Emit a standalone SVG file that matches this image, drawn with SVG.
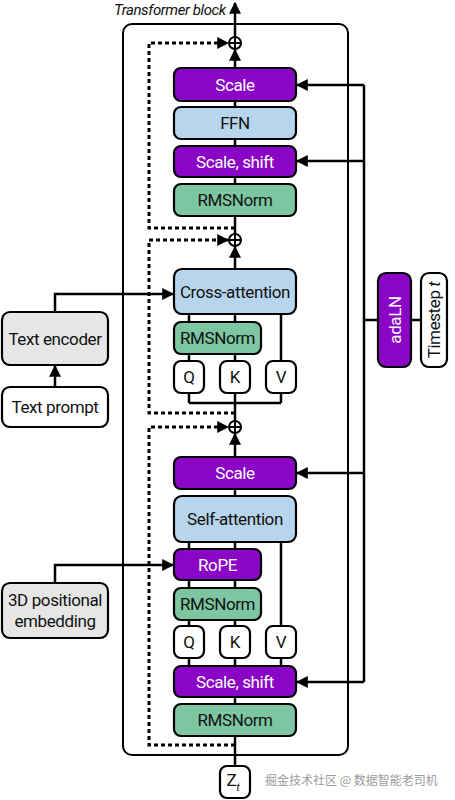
<svg xmlns="http://www.w3.org/2000/svg" width="455" height="800" viewBox="0 0 455 800">
<defs>
<marker id="ah" viewBox="0 0 10 10" refX="9" refY="5" markerWidth="12" markerHeight="12" markerUnits="userSpaceOnUse" orient="auto">
<path d="M0,0 L10,5 L0,10 z" fill="#000"/>
</marker>
<style>
.bx{stroke:#000;stroke-width:2.2}
.pu{fill:#8b05c6}
.bl{fill:#b7d5ec}
.gr{fill:#7dc6a2}
.wh{fill:#fff}
.gy{fill:#e6e6e6}
.t{font-family:Roboto,"Liberation Sans",sans-serif;font-size:17px;letter-spacing:-0.4px;text-anchor:middle;fill:#111}
.tw{fill:#fff}
.ln{fill:none;stroke:#000;stroke-width:2.5}
.ds{fill:none;stroke:#000;stroke-width:3;stroke-dasharray:4,3}
</style>
</defs>
<rect width="455" height="800" fill="#fff"/>
<g id="block">
<rect x="123" y="24" width="225" height="731" rx="9" fill="none" stroke="#000" stroke-width="2"/>
<text x="114" y="15" font-family="Roboto,'Liberation Sans',sans-serif" font-size="15" letter-spacing="-0.4" font-style="italic" fill="#111">Transformer block</text>
</g>
<g id="connectors">
<path class="ln" d="M235 37 V3" marker-end="url(#ah)"/>
<path class="ln" d="M235 234 V50" marker-end="url(#ah)"/>
<path class="ln" d="M235 269 V247" marker-end="url(#ah)"/>
<path class="ln" d="M189 403 V314 M235 421 V314 M281 403 V314 M189 403 H281"/>
<path class="ln" d="M235 736 V434" marker-end="url(#ah)"/>
<path class="ln" d="M189 666 V542 M281 666 V542"/>
<path class="ln" d="M235 766 V736"/>
<path class="ds" d="M235 745 H149 V427 H228" marker-end="url(#ah)"/>
<path class="ds" d="M235 413 H149 V240 H228" marker-end="url(#ah)"/>
<path class="ds" d="M235 228 H149 V43 H228" marker-end="url(#ah)"/>
<path class="ln" d="M364 85 V682"/>
<path class="ln" d="M364 85 H297" marker-end="url(#ah)"/>
<path class="ln" d="M364 161 H297" marker-end="url(#ah)"/>
<path class="ln" d="M364 473 H297" marker-end="url(#ah)"/>
<path class="ln" d="M364 682 H297" marker-end="url(#ah)"/>
<path class="ln" d="M364 320 H378 M411 320 H421"/>
<path class="ln" d="M55 312 V294 H173" marker-end="url(#ah)"/>
<path class="ln" d="M55 387 V366" marker-end="url(#ah)"/>
<path class="ln" d="M55 583 V565 H173" marker-end="url(#ah)"/>
</g>
<g id="add1"><circle cx="235" cy="43" r="6" fill="#fff" stroke="#000" stroke-width="2"/><path d="M229 43 H241 M235 37 V49" stroke="#000" stroke-width="2"/></g>
<g id="add2"><circle cx="235" cy="240" r="6" fill="#fff" stroke="#000" stroke-width="2"/><path d="M229 240 H241 M235 234 V246" stroke="#000" stroke-width="2"/></g>
<g id="add3"><circle cx="235" cy="427" r="6" fill="#fff" stroke="#000" stroke-width="2"/><path d="M229 427 H241 M235 421 V433" stroke="#000" stroke-width="2"/></g>
<g id="scale1"><rect class="bx pu" x="174" y="68" width="122" height="33" rx="7"/><text class="t tw" x="235" y="90.5">Scale</text></g>
<g id="ffn"><rect class="bx bl" x="174" y="107" width="122" height="32" rx="7"/><text class="t" x="235" y="129">FFN</text></g>
<g id="scaleshift1"><rect class="bx pu" x="174" y="146" width="122" height="31" rx="7"/><text class="t tw" x="235" y="167.5">Scale, shift</text></g>
<g id="rmsnorm1"><rect class="bx gr" x="174" y="184" width="122" height="32" rx="7"/><text class="t" x="235" y="206">RMSNorm</text></g>
<g id="crossattn"><rect class="bx bl" x="174" y="269" width="122" height="45" rx="8"/><text class="t" x="235" y="297.5">Cross-attention</text></g>
<g id="rmsnorm2"><rect class="bx gr" x="174" y="322" width="87" height="32" rx="7"/><text class="t" x="217.5" y="344">RMSNorm</text></g>
<g id="q1"><rect class="bx wh" x="174" y="361" width="30" height="32" rx="7"/><text class="t" x="189" y="383">Q</text></g>
<g id="k1"><rect class="bx wh" x="220" y="361" width="30" height="32" rx="7"/><text class="t" x="235" y="383">K</text></g>
<g id="v1"><rect class="bx wh" x="266" y="361" width="30" height="32" rx="7"/><text class="t" x="281" y="383">V</text></g>
<g id="scale2"><rect class="bx pu" x="174" y="457" width="122" height="32" rx="7"/><text class="t tw" x="235" y="479">Scale</text></g>
<g id="selfattn"><rect class="bx bl" x="174" y="496" width="122" height="46" rx="8"/><text class="t" x="235" y="525">Self-attention</text></g>
<g id="rope"><rect class="bx pu" x="174" y="549" width="87" height="31" rx="7"/><text class="t tw" x="217.5" y="570.5">RoPE</text></g>
<g id="rmsnorm3"><rect class="bx gr" x="174" y="588" width="87" height="32" rx="7"/><text class="t" x="217.5" y="610">RMSNorm</text></g>
<g id="q2"><rect class="bx wh" x="174" y="626" width="30" height="32" rx="7"/><text class="t" x="189" y="648">Q</text></g>
<g id="k2"><rect class="bx wh" x="220" y="626" width="30" height="32" rx="7"/><text class="t" x="235" y="648">K</text></g>
<g id="v2"><rect class="bx wh" x="266" y="626" width="30" height="32" rx="7"/><text class="t" x="281" y="648">V</text></g>
<g id="scaleshift2"><rect class="bx pu" x="174" y="666" width="122" height="31" rx="7"/><text class="t tw" x="235" y="687.5">Scale, shift</text></g>
<g id="rmsnorm4"><rect class="bx gr" x="174" y="704" width="122" height="32" rx="7"/><text class="t" x="235" y="726">RMSNorm</text></g>
<g id="zt"><rect class="bx wh" x="220" y="766" width="30" height="32" rx="7"/><text class="t" x="233" y="786">Z<tspan font-size="11" font-style="italic" dy="5">t</tspan></text></g>
<g id="textencoder"><rect class="bx gy" x="2" y="312" width="106" height="53" rx="8"/><text class="t" x="55" y="344.5">Text encoder</text></g>
<g id="textprompt"><rect class="bx wh" x="2" y="387" width="106" height="40" rx="8"/><text class="t" x="55" y="413">Text prompt</text></g>
<g id="posemb"><rect class="bx gy" x="2" y="583" width="106" height="55" rx="8"/><text class="t" x="55" y="606">3D positional</text><text class="t" x="55" y="627">embedding</text></g>
<g id="adaln"><rect class="bx pu" x="378" y="273" width="33" height="94" rx="8"/><text class="t tw" transform="translate(400.5 320) rotate(-90)">adaLN</text></g>
<g id="timestep"><rect class="bx wh" x="421" y="273" width="26" height="94" rx="8"/><text class="t" transform="translate(440 320) rotate(-90)">Timestep <tspan font-style="italic">t</tspan></text></g>
<text x="265" y="785" font-family="'Noto Sans CJK SC',sans-serif" font-size="12" fill="#9a9a9a">掘金技术社区 @ 数据智能老司机</text>
</svg>
